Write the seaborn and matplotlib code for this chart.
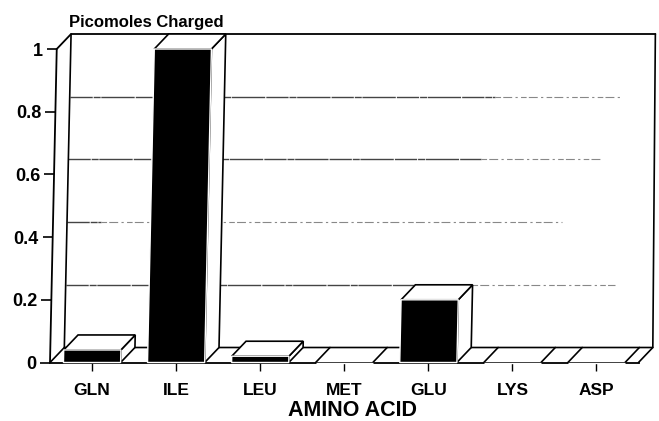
import pandas as pd
import seaborn as sns
import matplotlib.pyplot as plt
from matplotlib.patches import Polygon
from matplotlib.transforms import Affine2D

amino_acids = ['GLN', 'ILE', 'LEU', 'MET', 'GLU', 'LYS', 'ASP']
picomoles = [0.04, 1.0, 0.02, 0.0, 0.2, 0.0, 0.0]
y_ticks = [0, 0.2, 0.4, 0.6, 0.8, 1]
y_tick_labels = ['0', '0.2', '0.4', '0.6', '0.8', '1']
grid_levels = [0.2, 0.4, 0.6, 0.8]
# the printed gridlines fade out: where the dark part stops and where the faint part stops
grid_dark_end = [4.5, 0.07, 4.57, 4.73]
grid_faint_end = [6.2, 5.55, 6.0, 6.24]

data = pd.DataFrame({'amino': amino_acids, 'value': picomoles})

sns.set_theme(style='ticks')
plt.rcParams['font.family'] = ['Liberation Sans', 'DejaVu Sans']

W, H = 659, 421
fig = plt.figure(figsize=(W / 100, H / 100), dpi=100)
# front plane of the fake 3D box, in pixels
left, base, right, top = 50, 362.5, 638.5, 49
ax = fig.add_axes([left / W, 1 - base / H, (right - left) / W, (base - top) / H])

sns.barplot(data=data, x='amino', y='value', color='black', saturation=1,
            width=0.68, ax=ax, zorder=5)
ax.set_xlim(-0.5, 6.5)
ax.set_ylim(0, 1)

# the scan leans a little to the right going up
s = 0.0215
y0 = H - base
shear = Affine2D.from_values(1, 0, s, 1, -s * y0, 0)
tr = ax.transData + shear

# depth of the box in data units
dx = 14 / ((right - left) / 7)
dy = 15 / (base - top)
x0, x1 = -0.5, 6.5
lean = 0.05  # right wall leans less than the left one

# back wall and floor
line = dict(color='black', transform=tr, clip_on=False, zorder=2)
ax.plot([x0, x0 + dx, x1 + dx, x1 + dx - lean], [0, dy, dy, 1 + dy], lw=1.2, **line)
ax.plot([x0, x0], [0, 1], lw=1.3, **line)
ax.plot([x0, x0 + dx, x1 + dx - lean], [1, 1 + dy, 1 + dy], lw=1.3, **line)
ax.plot([x0 + dx, x0 + dx], [dy, 1 + dy], lw=1.2, **line)
ax.plot([x1, x1 + dx], [0, dy], lw=1.2, **line)

for level, dark_end, faint_end in zip(grid_levels, grid_dark_end, grid_faint_end):
    ax.plot([x0 + dx, dark_end], [level + dy, level + dy], color='#444444', lw=1.0,
            ls=(0, (16, 0.7, 5, 0.5, 24, 0.8)), transform=tr, clip_on=False, zorder=1)
    ax.plot([dark_end, faint_end], [level + dy, level + dy], color='#888888', lw=0.8,
            ls=(0, (5, 2, 8, 3, 2, 3)), transform=tr, clip_on=False, zorder=1)

# sides and tops of the bars, floor stripes for the empty ones
for bar in ax.patches[:len(amino_acids)]:
    bx, bw, bh = bar.get_x(), bar.get_width(), bar.get_height()
    bar.set_transform(tr)
    bar.set_clip_on(False)
    if bh > 0:
        side = [(bx + bw, 0), (bx + bw + dx, dy), (bx + bw + dx, bh + dy), (bx + bw, bh)]
        roof = [(bx, bh), (bx + dx, bh + dy), (bx + bw + dx, bh + dy), (bx + bw, bh)]
        for pts in (side, roof):
            ax.add_patch(Polygon(pts, closed=True, fc='white', ec='black', lw=1.2,
                                 transform=tr, clip_on=False, zorder=4))
    else:
        for ex in (bx, bx + bw):
            ax.plot([ex, ex + dx], [0, dy], lw=1.2, **line)

sns.despine(ax=ax, left=True)
ax.spines['bottom'].set_linewidth(1.3)
ax.spines['bottom'].set_color('black')

ax.set_yticks(y_ticks, y_tick_labels)
ax.tick_params(axis='y', length=7, width=1.2, color='black', pad=3, labelsize=13,
               labelcolor='black')
ax.tick_params(axis='x', length=6, width=1.0, color='black', pad=9, labelsize=12.5,
               labelcolor='black')
for t in ax.yaxis.get_major_ticks():
    t.tick1line.set_transform(t.tick1line.get_transform() + shear)
    t.label1.set_transform(t.label1.get_transform() + shear)
    t.label1.set_fontweight('bold')
for lab in ax.get_xticklabels():
    lab.set_fontweight('bold')

ax.set_ylabel('')
ax.set_xlabel('AMINO ACID', fontsize=15.5, fontweight='bold', color='black')
ax.xaxis.set_label_coords((352 - left) / (right - left), -37.5 / (base - top))
ax.text(0.032, 1.083, 'Picomoles Charged', transform=ax.transAxes, fontsize=12,
        fontweight='bold', color='black', va='center')

fig.savefig('out.png', dpi=100)
